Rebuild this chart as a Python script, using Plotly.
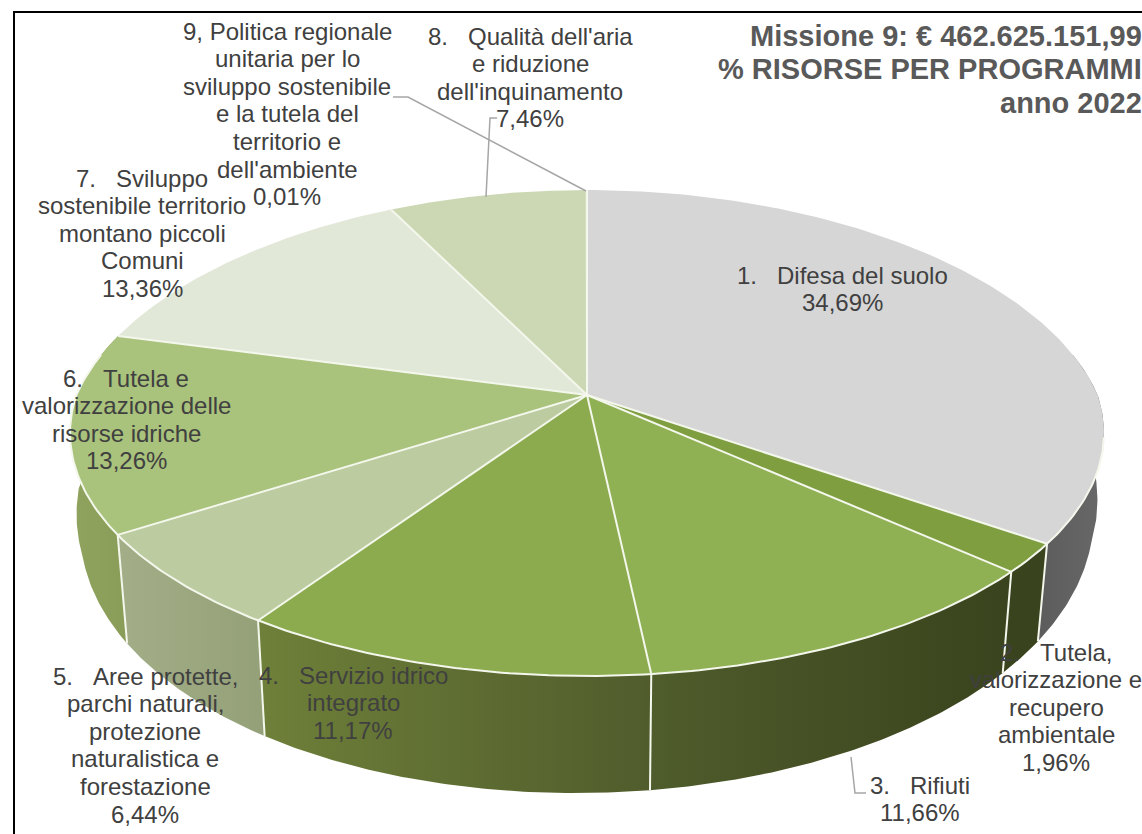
import numpy as np
import plotly.graph_objects as go

categories = ["1. Difesa del suolo", "2. Tutela, valorizzazione e recupero ambientale", "3. Rifiuti",
              "4. Servizio idrico integrato", "5. Aree protette, parchi naturali, protezione naturalistica e forestazione",
              "6. Tutela e valorizzazione delle risorse idriche", "7. Sviluppo sostenibile territorio montano piccoli Comuni",
              "8. Qualità dell'aria e riduzione dell'inquinamento",
              "9, Politica regionale unitaria per lo sviluppo sostenibile e la tutela del territorio e dell'ambiente"]
values = [34.69, 1.96, 11.66, 11.17, 6.44, 13.26, 13.36, 7.46, 0.01]
top_colors = ["#d6d6d6", "#7f9e40", "#8fb053", "#8cab4f", "#bccca0", "#a9c27c", "#e1e8d8", "#ccd8b3", "#d6d6d6"]
side_colors = [("#5c5c5c", "#686868"), ("#39431d", "#39431d"), ("#4f5c2b", "#39431d"), ("#6e8039", "#505c2c"),
               ("#a3ae88", "#94a077"), ("#8fa35f", "#8a9d58"), ("#e1e8d8", "#e1e8d8"), ("#ccd8b3", "#ccd8b3"),
               ("#d6d6d6", "#d6d6d6")]
title_lines = ["Missione 9: € 462.625.151,99", "% RISORSE PER PROGRAMMI", "anno 2022"]
NB = "\u00a0"
label_lines = [
    [f"1.{NB}{NB}{NB}Difesa del suolo", "34,69%"],
    [f"2.{NB}{NB}{NB}Tutela,", "valorizzazione e", "recupero", "ambientale", "1,96%"],
    [f"3.{NB}{NB}{NB}Rifiuti", "11,66%"],
    [f"4.{NB}{NB}{NB}Servizio idrico", "integrato", "11,17%"],
    [f"5.{NB}{NB}{NB}Aree protette,", "parchi naturali,", "protezione", "naturalistica e", "forestazione", "6,44%"],
    [f"6.{NB}{NB}{NB}Tutela e", "valorizzazione delle", "risorse idriche", "13,26%"],
    [f"7.{NB}{NB}{NB}Sviluppo", "sostenibile territorio", "montano piccoli", "Comuni", "13,36%"],
    [f"8.{NB}{NB}{NB}Qualità dell'aria", "e riduzione", "dell'inquinamento", "7,46%"],
    ["9, Politica regionale", "unitaria per lo", "sviluppo sostenibile", "e la tutela del", "territorio e", "dell'ambiente", "0,01%"],
]
label_anchor = [(842, 275), (1056, 652), (920, 785), (353, 675), (145, 676), (126, 378), (142, 178), (530, 36), (287, 31)]
LINE_STEP = 27.6

CX, CY, W, H, K, K_BACK, BX = 587.0, 395.0, 510.6, 237.0, 0.1565, 0.2, 0.98


def top(a):
    u, v = np.sin(a), np.cos(a)
    d = 1 + K * v
    dx = 1 + np.where(v < 0, K, K_BACK) * v
    return CX + W * u / dx, CY - H * v / d


def bottom(a):
    u, v = np.sin(a), np.cos(a)
    d = 1 + K * v
    dx = 1 + np.where(v < 0, K, K_BACK) * v
    depth = 85.4 - 31.6 * v - 7.2 * u
    bx = BX + 0.015 * np.clip(1 + v / 0.25, 0, 1)
    return CX + bx * W * u / dx, CY - H * v / d + depth


fractions = np.cumsum([0] + values) / sum(values) * 2 * np.pi
EDGE = "#f4f7ec"
fig = go.Figure()

# side walls, drawn before the top so that the top hides their back parts
for i, (a0, a1) in enumerate(zip(fractions[:-1], fractions[1:])):
    lo, hi = max(a0, np.radians(80)), min(a1, np.radians(285))
    if hi <= lo:
        continue
    a = np.linspace(lo, hi, 80)
    tx, ty = top(a)
    bx, by = bottom(a)
    fig.add_trace(go.Scatter(
        x=np.r_[tx, bx[::-1], tx[0]], y=np.r_[ty, by[::-1], ty[0]], mode="lines", fill="toself",
        line=dict(color="rgba(0,0,0,0)", width=0),
        fillgradient=dict(type="horizontal", colorscale=[[0, side_colors[i][0]], [1, side_colors[i][1]]]),
        hoverinfo="skip", showlegend=False))
    if np.radians(90) < a0 < np.radians(285):
        fig.add_trace(go.Scatter(x=[tx[0], bx[0]], y=[ty[0], by[0]], mode="lines",
                                 line=dict(color=EDGE, width=2), hoverinfo="skip", showlegend=False))

# top face: fills without outline
for i, (a0, a1) in enumerate(zip(fractions[:-1], fractions[1:])):
    a = np.linspace(a0, a1, 120)
    tx, ty = top(a)
    fig.add_trace(go.Scatter(
        x=np.r_[CX, tx, CX], y=np.r_[CY, ty, CY], mode="lines", fill="toself",
        fillcolor=top_colors[i], line=dict(color="rgba(0,0,0,0)", width=0),
        name=categories[i], hoverinfo="name", showlegend=False))

# spokes between slices
for a0 in fractions[:-1]:
    tx, ty = top(np.array([a0]))
    fig.add_trace(go.Scatter(x=[CX, tx[0]], y=[CY, ty[0]], mode="lines", line=dict(color=EDGE, width=2),
                             hoverinfo="skip", showlegend=False))

# front rim only
rim = np.linspace(np.radians(100), np.radians(280), 240)
rx, ry = top(rim)
fig.add_trace(go.Scatter(x=rx, y=ry, mode="lines", line=dict(color=EDGE, width=2), hoverinfo="skip", showlegend=False))

annotations = []
for lines, (x, y0) in zip(label_lines, label_anchor):
    for j, line in enumerate(lines):
        annotations.append(dict(x=x, y=y0 + j * LINE_STEP, text=line, showarrow=False, xanchor="center",
                                yanchor="middle", font=dict(family="Liberation Sans", size=24, color="#404040")))
for line, y in zip(title_lines, [36, 69, 103]):
    annotations.append(dict(x=1142, y=y, text=f"<b>{line}</b>", showarrow=False, xanchor="right", yanchor="middle",
                            xshift=2, font=dict(family="Liberation Sans", size=29, color="#595959")))

leader = dict(color="#a6a6a6", width=1.5)
shapes = [
    dict(type="path", path="M 393 97 L 408 97 L 586 191", line=leader),
    dict(type="path", path="M 486 197 L 490 118 L 497 118", line=leader),
    dict(type="path", path="M 851 757 L 855 793 L 866 793", line=leader),
    dict(type="path", path="M 14 834 L 14 12 L 1142 12", line=dict(color="#000000", width=2)),
]

fig.update_layout(
    width=1142, height=834, margin=dict(l=0, r=0, t=0, b=0), paper_bgcolor="white", plot_bgcolor="white",
    xaxis=dict(range=[0, 1142], visible=False, fixedrange=True),
    yaxis=dict(range=[834, 0], visible=False, fixedrange=True),
    annotations=annotations, shapes=shapes, showlegend=False,
)
fig.write_html("out.html", config={"displayModeBar": False},
               post_script="document.body.style.margin='0';document.body.style.overflow='hidden';")
